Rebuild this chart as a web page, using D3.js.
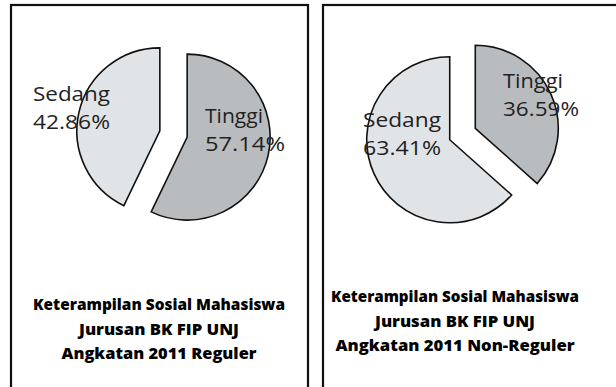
<!DOCTYPE html>
<html>
<head>
<meta charset="utf-8">
<script src="https://cdn.jsdelivr.net/npm/d3@7"></script>
<style>
  html, body { margin: 0; padding: 0; background: #fff; }
  svg { display: block; }
</style>
</head>
<body>
<svg id="chart" width="616" height="387"></svg>
<script>
// ---- data ----
const categories = ["Tinggi", "Sedang"];
const valuesReguler = [57.14, 42.86];
const valuesNonReguler = [36.59, 63.41];
const valueLabelsReguler = ["57.14%", "42.86%"];
const valueLabelsNonReguler = ["36.59%", "63.41%"];
const titleReguler = ["Keterampilan Sosial Mahasiswa", "Jurusan BK FIP UNJ", "Angkatan 2011 Reguler"];
const titleNonReguler = ["Keterampilan Sosial Mahasiswa", "Jurusan BK FIP UNJ", "Angkatan 2011 Non-Reguler"];
const sliceColors = ["#b9bcbe", "#e1e4e6"];

const svg = d3.select("#chart");
const color = d3.scaleOrdinal().domain(categories).range(sliceColors);

const panels = [
  {
    x: 11, w: 297, values: valuesReguler, labels: valueLabelsReguler, title: titleReguler,
    cx: 173.5, cy: 134, titleCx: 159, titleY: 310, titleW: [252, 160, 195],
    labelPos: { Tinggi: [205, 123, 58, 80], Sedang: [33, 101, 77, 77] }
  },
  {
    x: 323, w: 310, values: valuesNonReguler, labels: valueLabelsNonReguler, title: titleNonReguler,
    cx: 462.5, cy: 134, titleCx: 455, titleY: 302, titleW: [248, 160, 239],
    labelPos: { Tinggi: [503, 88, 60, 76], Sedang: [363, 127, 78, 78] }
  }
];

const r = 83, explode = 14;
const pie = d3.pie().sort(null).value(d => d.v);
const arc = d3.arc().innerRadius(0).outerRadius(r);

panels.forEach(p => {
  svg.append("rect")
    .attr("x", p.x).attr("y", 5)
    .attr("width", p.w).attr("height", 400)
    .attr("fill", "none").attr("stroke", "#111").attr("stroke-width", 2.2);

  const data = categories.map((c, i) => ({ c, v: p.values[i], label: p.labels[i] }));
  const arcs = pie(data);
  const g = svg.append("g").attr("transform", `translate(${p.cx},${p.cy})`);
  g.selectAll("path").data(arcs).join("path")
    .attr("transform", d => {
      const m = (d.startAngle + d.endAngle) / 2;
      return `translate(${explode * Math.sin(m)},${-explode * Math.cos(m)})`;
    })
    .attr("d", arc)
    .attr("fill", d => color(d.data.c))
    .attr("stroke", "#111").attr("stroke-width", 1.6)
    .attr("stroke-linejoin", "miter");

  arcs.forEach(d => {
    const lp = p.labelPos[d.data.c];
    [d.data.c, d.data.label].forEach((txt, i) => {
      svg.append("text")
        .attr("x", lp[0]).attr("y", lp[1] + i * 28)
        .attr("font-family", "'Open Sans', sans-serif")
        .attr("font-size", 20)
        .attr("fill", "#222")
        .attr("textLength", lp[2 + i]).attr("lengthAdjust", "spacingAndGlyphs")
        .text(txt);
    });
  });

  p.title.forEach((line, i) => {
    svg.append("text")
      .attr("x", p.titleCx).attr("y", p.titleY + i * 24.5)
      .attr("font-family", "'Open Sans', sans-serif")
      .attr("font-weight", 800)
      .attr("font-size", 16)
      .attr("fill", "#000")
      .attr("text-anchor", "middle")
      .attr("textLength", p.titleW[i]).attr("lengthAdjust", "spacingAndGlyphs")
      .text(line);
  });
});
</script>
</body>
</html>
